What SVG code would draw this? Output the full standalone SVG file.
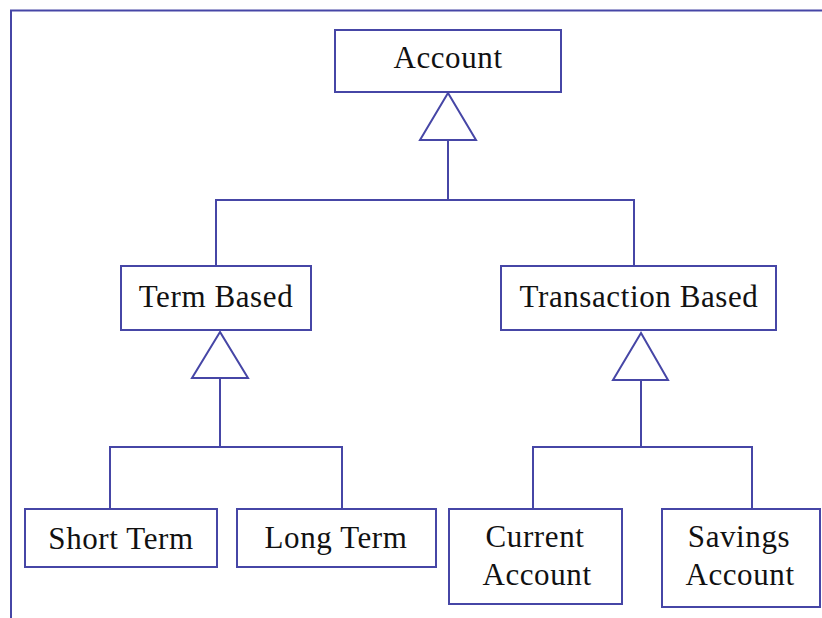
<svg xmlns="http://www.w3.org/2000/svg" width="822" height="618" viewBox="0 0 822 618">
<style>
.box{fill:#fff;stroke:#4646a6;stroke-width:2}
.ln{fill:none;stroke:#4646a6;stroke-width:2}
.tri{fill:#fff;stroke:#4646a6;stroke-width:2;stroke-linejoin:miter}
.t{font-family:'Liberation Serif','Times New Roman','DejaVu Serif',serif;font-size:31px;fill:#111;text-anchor:middle;letter-spacing:0.6px}
</style>
<rect width="822" height="618" fill="#fff"/>
<path class="ln" d="M11,618 V10.5 H822"/>
<g id="connectors">
<path class="ln" d="M448,140 V200 M216,266 V200 H634 V266"/>
<polygon class="tri" points="448,93 420,140 476,140"/>
<path class="ln" d="M220,378 V447 M110,509 V447 H342 V509"/>
<polygon class="tri" points="220,332 192,378 248,378"/>
<path class="ln" d="M641,380 V447 M533,509 V447 H752 V509"/>
<polygon class="tri" points="641,333 613,380 668,380"/>
</g>
<g id="account"><rect class="box" x="335" y="30" width="226" height="62"/><text class="t" font-family="Liberation Serif" x="448" y="68">Account</text></g>
<g id="term-based"><rect class="box" x="121" y="266" width="190" height="64"/><text class="t" font-family="Liberation Serif" x="216" y="307">Term Based</text></g>
<g id="transaction-based"><rect class="box" x="501" y="266" width="275" height="64"/><text class="t" font-family="Liberation Serif" x="639" y="307">Transaction Based</text></g>
<g id="short-term"><rect class="box" x="25" y="509" width="192" height="58"/><text class="t" font-family="Liberation Serif" x="121" y="549">Short Term</text></g>
<g id="long-term"><rect class="box" x="237" y="509" width="199" height="58"/><text class="t" font-family="Liberation Serif" x="336" y="548">Long Term</text></g>
<g id="current-account"><rect class="box" x="449" y="509" width="173" height="95"/><text class="t" font-family="Liberation Serif" x="535" y="547">Current</text><text class="t" font-family="Liberation Serif" x="537" y="585">Account</text></g>
<g id="savings-account"><rect class="box" x="662" y="509" width="158" height="98"/><text class="t" font-family="Liberation Serif" x="739" y="547">Savings</text><text class="t" font-family="Liberation Serif" x="740" y="585">Account</text></g>
</svg>
